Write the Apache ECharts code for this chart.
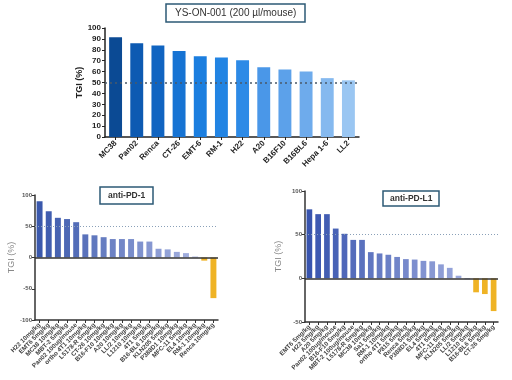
<!DOCTYPE html>
<html><head><meta charset="utf-8">
<script src="https://cdn.jsdelivr.net/npm/echarts@6/dist/echarts.min.js"></script>
<style>html,body{margin:0;padding:0;background:#fff}#c{width:512px;height:380px}</style>
</head><body><div id="c"></div>
<script>
const topCats = ['MC38','Pan02','Renca','CT-26','EMT-6','RM-1','H22','A20','B16F10','B16BL6','Hepa 1-6','LL2'];
const topVals = [91.5, 86, 84, 79, 74, 73, 70.5, 64, 62, 60, 54, 52];

const pd1Cats = ['H22 10mg/kg','EMT6 5mg/kg','MC38 10mg/kg','MBT-2 5mg/kg','Pan02 100ug/mouse','ortho 4T1 10mg/kg','L5178-R 5mg/kg','CT-26 10mg/kg','B16-F10 10mg/kg','A20 10mg/kg','LL/2 10mg/kg','L1210 10mg/kg','4T1 5mg/kg','B16-BL6 10mg/kg','KLN205 5mg/kg','P388D1 10mg/kg','MFC-11 5mg/kg','EL4 10mg/kg','RM-1 10mg/kg','Renca 10mg/kg'];
const pd1Vals = [90, 74, 63.5, 61.5, 56.5, 37, 35.5, 32.5, 29.5, 29.5, 29.5, 25.5, 25.5, 14, 13, 9, 7, 1.5, -5, -65];

const pdl1Cats = ['EMT6 5mg/kg','H22 5mg/kg','A20 5mg/kg','Pan02 100ug/mouse','B16-F10 5mg/kg','MBT-2 100ug/mouse','L5178-R 5mg/kg','MC38 10mg/kg','Sa1 5mg/kg','RM-1 10mg/kg','ortho 4T1 5mg/kg','P815 5mg/kg','Renca 5mg/kg','P388D1 5mg/kg','EL4 5mg/kg','4T1 5mg/kg','MFC-11 5mg/kg','KLN205 5mg/kg','LL/2 5mg/kg','L1210 5mg/kg','B16-BL6 5mg/kg','CT-26 5mg/kg'];
const pdl1Vals = [79, 73.5, 73.5, 57, 51, 44, 44, 30, 28.5, 27, 24.5, 22, 21.5, 20, 19.5, 16, 12, 3, -1, -16, -18, -37.5];

const topPalette = ['#0b4a94','#0d5ab2','#1064c1','#1673d3','#1b7edf','#2284e3','#2d8ae6','#4a97e8','#5ca1ea','#6eabec','#85b9ef','#9ac6f2'];

function lerp(a,b,t){
  const pa=[1,3,5].map(i=>parseInt(a.substr(i,2),16));
  const pb=[1,3,5].map(i=>parseInt(b.substr(i,2),16));
  return 'rgb('+pa.map((v,i)=>Math.round(v+(pb[i]-v)*t)).join(',')+')';
}
function blueYellow(n, dark, light){
  return function(p){
    if (p.value < -3) return '#efb325';
    return lerp(dark, light, p.dataIndex/(n-1));
  };
}

const font = 'Liberation Sans, Arial, sans-serif';
const chart = echarts.init(document.getElementById('c'), null, {renderer:'canvas'});

const titleBox = (text, left, top, size, bold, pad) => ({
  text, left, top,
  borderColor:'#2d5a76', borderWidth:1.5, padding:pad,
  textStyle:{fontSize:size, fontWeight: bold?'bold':'normal', color:'#333', fontFamily:font}
});

chart.setOption({
  animation:false,
  backgroundColor:'#fff',
  title:[
    titleBox('YS-ON-001 (200 µl/mouse)', 166, 4, 10, false, [4,9,4,9]),
    titleBox('anti-PD-1', 100, 187, 8.5, true, [4,8,4,8]),
    titleBox('anti-PD-L1', 383, 191, 8.5, true, [3,7,3,7])
  ],
  grid:[
    {left:105, right:153, top:28, bottom:243, containLabel:false},
    {left:35, right:294, top:195, bottom:60, containLabel:false},
    {left:305, right:14, top:191, bottom:58, containLabel:false}
  ],
  xAxis:[
    {gridIndex:0, type:'category', data:topCats,
     axisLine:{lineStyle:{color:'#222', width:1.5}},
     axisTick:{show:true, alignWithLabel:true, length:3, lineStyle:{color:'#222'}},
     axisLabel:{rotate:45, fontSize:8, fontWeight:'bold', color:'#222', margin:5, fontFamily:font, interval:0}},
    {gridIndex:1, type:'category', data:pd1Cats,
     axisLine:{onZero:false, lineStyle:{color:'#333', width:1.5}},
     axisTick:{show:true, alignWithLabel:true, length:3, lineStyle:{color:'#333'}},
     axisLabel:{rotate:45, fontSize:6.3, fontWeight:'bold', color:'#444', margin:4, fontFamily:font, interval:0}},
    {gridIndex:2, type:'category', data:pdl1Cats,
     axisLine:{onZero:false, lineStyle:{color:'#333', width:1.5}},
     axisTick:{show:true, alignWithLabel:true, length:3, lineStyle:{color:'#333'}},
     axisLabel:{rotate:45, fontSize:6.3, fontWeight:'bold', color:'#444', margin:4, fontFamily:font, interval:0}}
  ],
  yAxis:[
    {gridIndex:0, type:'value', min:0, max:100, interval:10,
     name:'TGI (%)', nameLocation:'middle', nameGap:20,
     nameTextStyle:{fontSize:9, fontWeight:'bold', color:'#222', fontFamily:font},
     axisLine:{show:true, lineStyle:{color:'#222', width:1.5}},
     axisTick:{show:true, length:3, lineStyle:{color:'#222'}},
     splitLine:{show:false},
     axisLabel:{fontSize:8, fontWeight:'bold', color:'#222', margin:4, fontFamily:font}},
    {gridIndex:1, type:'value', min:-100, max:100, interval:50,
     name:'TGI (%)', nameLocation:'middle', nameGap:18,
     nameTextStyle:{fontSize:9, color:'#888', fontFamily:font},
     axisLine:{show:true, lineStyle:{color:'#333', width:1.5}},
     axisTick:{show:true, length:3, lineStyle:{color:'#333'}},
     splitLine:{show:false},
     axisLabel:{fontSize:6, fontWeight:'bold', color:'#555', margin:3, fontFamily:font}},
    {gridIndex:2, type:'value', min:-50, max:100, interval:50,
     name:'TGI (%)', nameLocation:'middle', nameGap:22,
     nameTextStyle:{fontSize:9, color:'#888', fontFamily:font},
     axisLine:{show:true, lineStyle:{color:'#333', width:1.5}},
     axisTick:{show:true, length:3, lineStyle:{color:'#333'}},
     splitLine:{show:false},
     axisLabel:{fontSize:6, fontWeight:'bold', color:'#555', margin:3, fontFamily:font}}
  ],
  series:[
    {type:'bar', xAxisIndex:0, yAxisIndex:0, data:topVals, barWidth:'61%',
     itemStyle:{color:p=>topPalette[p.dataIndex]},
     markLine:{silent:true, symbol:'none', label:{show:false},
       lineStyle:{type:[2,3], color:'#4a5a6a', width:1.5},
       data:[{yAxis:50}]}},
    {type:'bar', xAxisIndex:1, yAxisIndex:1, data:pd1Vals, barWidth:'65%',
     itemStyle:{color:blueYellow(pd1Vals.length,'#3a58ac','#b2bce6')},
     markLine:{silent:true, symbol:'none', label:{show:false}, data:[
       {yAxis:50, lineStyle:{type:[1,2], color:'#8aa0b8', width:1}},
       {yAxis:0, lineStyle:{type:'solid', color:'#333', width:1.5}}
     ]}},
    {type:'bar', xAxisIndex:2, yAxisIndex:2, data:pdl1Vals, barWidth:'65%',
     itemStyle:{color:blueYellow(pdl1Vals.length,'#3854ae','#b0bae6')},
     markLine:{silent:true, symbol:'none', label:{show:false}, data:[
       {yAxis:50, lineStyle:{type:[1,2], color:'#8aa0b8', width:1}},
       {yAxis:0, lineStyle:{type:'solid', color:'#333', width:1.5}}
     ]}}
  ]
});
</script></body></html>
